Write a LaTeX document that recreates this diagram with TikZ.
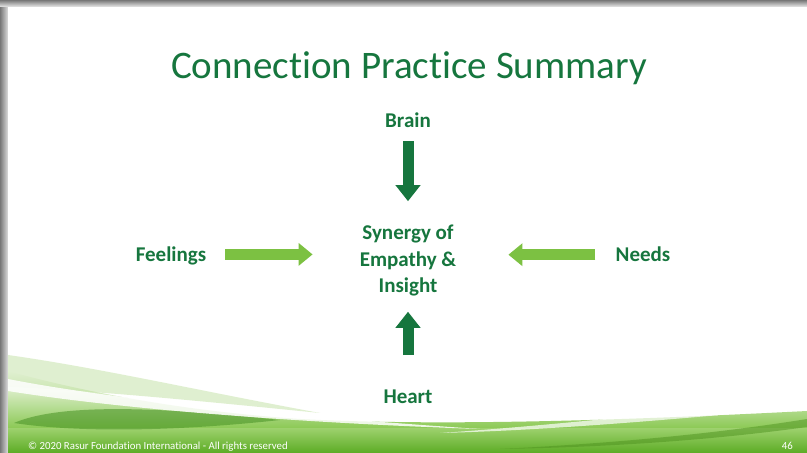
\documentclass[tikz,border=0pt]{standalone}
\usepackage{fontspec}
\setmainfont[Ligatures=NoCommon]{Carlito}
\usetikzlibrary{arrows.meta,shadings,fadings}
\definecolor{dkgreen}{RGB}{22,118,62}
\definecolor{ltgreen}{RGB}{124,193,66}
\definecolor{grassA}{RGB}{92,172,36}
\definecolor{grassB}{RGB}{130,196,70}
\definecolor{grassD}{RGB}{70,145,35}
\definecolor{borderg}{RGB}{170,170,170}
\tikzset{
  label/.style={font=\bfseries\fontsize{21}{26.5}\selectfont, text=dkgreen, inner sep=0pt, align=center},
  darr/.style={draw=dkgreen, line width=11pt, -{Triangle[width=24pt,length=16pt]}},
  larr/.style={draw=ltgreen, line width=11.5pt, -{Triangle[width=22pt,length=14pt]}},
}
\begin{document}
\begin{tikzpicture}[x=1pt,y=1pt]
\useasboundingbox (0,0) rectangle (807,453);
% frame shadow
\fill[borderg] (0,0) rectangle (807,453);
\shade[left color=borderg!70!black, right color=white!92!black] (0,0) rectangle (9,453);
\shade[top color=borderg!70!black, bottom color=white!92!black] (0,446) rectangle (807,453);
\fill[white] (8,0) rectangle (807,446);
% bottom green swoosh
\shade[top color=white, bottom color=grassB]
  (8,20) -- (807,20) -- (807,42) .. controls (650,34) and (450,26) .. (300,34)
  .. controls (180,42) and (80,62) .. (8,82) -- cycle;
\shade[top color=grassB!80!white, bottom color=grassA] (8,0) rectangle (807,24);
\fill[grassB!50!white, opacity=0.5] (8,98) .. controls (100,85) and (200,62) .. (320,40)
  .. controls (200,52) and (100,62) .. (8,66) -- cycle;
\fill[grassD, opacity=0.55] (14,30) .. controls (60,50) and (160,46) .. (280,33)
  .. controls (180,22) and (80,20) .. (14,30) -- cycle;
\fill[white, opacity=0.85] (8,74) .. controls (120,52) and (300,36) .. (480,24)
  .. controls (300,30) and (120,44) .. (8,62) -- cycle;
\fill[white, opacity=0.7] (440,20) .. controls (560,28) and (700,44) .. (807,54)
  -- (807,46) .. controls (700,36) and (560,23) .. (440,20) -- cycle;
\fill[grassA!85!black, opacity=0.5] (500,4) .. controls (620,10) and (720,20) .. (807,34)
  -- (807,26) .. controls (720,14) and (620,6) .. (500,4) -- cycle;
% title
\node[font=\fontsize{39}{42}\selectfont, text=dkgreen, anchor=base, inner sep=0pt] (title) at (409,374) {Connection Practice Summary};
% nodes
\node[label, anchor=base] (brain) at (408,325) {Brain};
\node[label, anchor=base] (heart) at (408,49) {Heart};
\node[label, anchor=base] (feelings) at (171,191) {Feelings};
\node[label, anchor=base] (needs) at (643,191) {Needs};
\node[label, anchor=base] (center) at (408,160) {Synergy of\\Empathy \&\\Insight};
% connectors
\draw[darr, shorten <=13pt, shorten >=24pt] (brain.south) -- (brain.south |- center.north);
\draw[darr, shorten <=35pt, shorten >=15pt] (heart.north) -- (heart.north |- center.south);
\draw[larr, shorten <=19pt, shorten >=47pt] ([yshift=2pt]feelings.east) -- ([yshift=2pt]feelings.east -| center.west);
\draw[larr, shorten <=20pt, shorten >=52pt] (needs.west) -- (needs.west -| center.east);
% footer
\node[font=\fontsize{10.8}{12}\selectfont, text=white, anchor=base west, inner sep=0pt] (foot) at (28,3) {© 2020 Rasur Foundation International - All rights reserved};
\node[font=\fontsize{10.8}{12}\selectfont, text=white, anchor=base east, inner sep=0pt] (page) at (793,3) {46};
\end{tikzpicture}
\end{document}
